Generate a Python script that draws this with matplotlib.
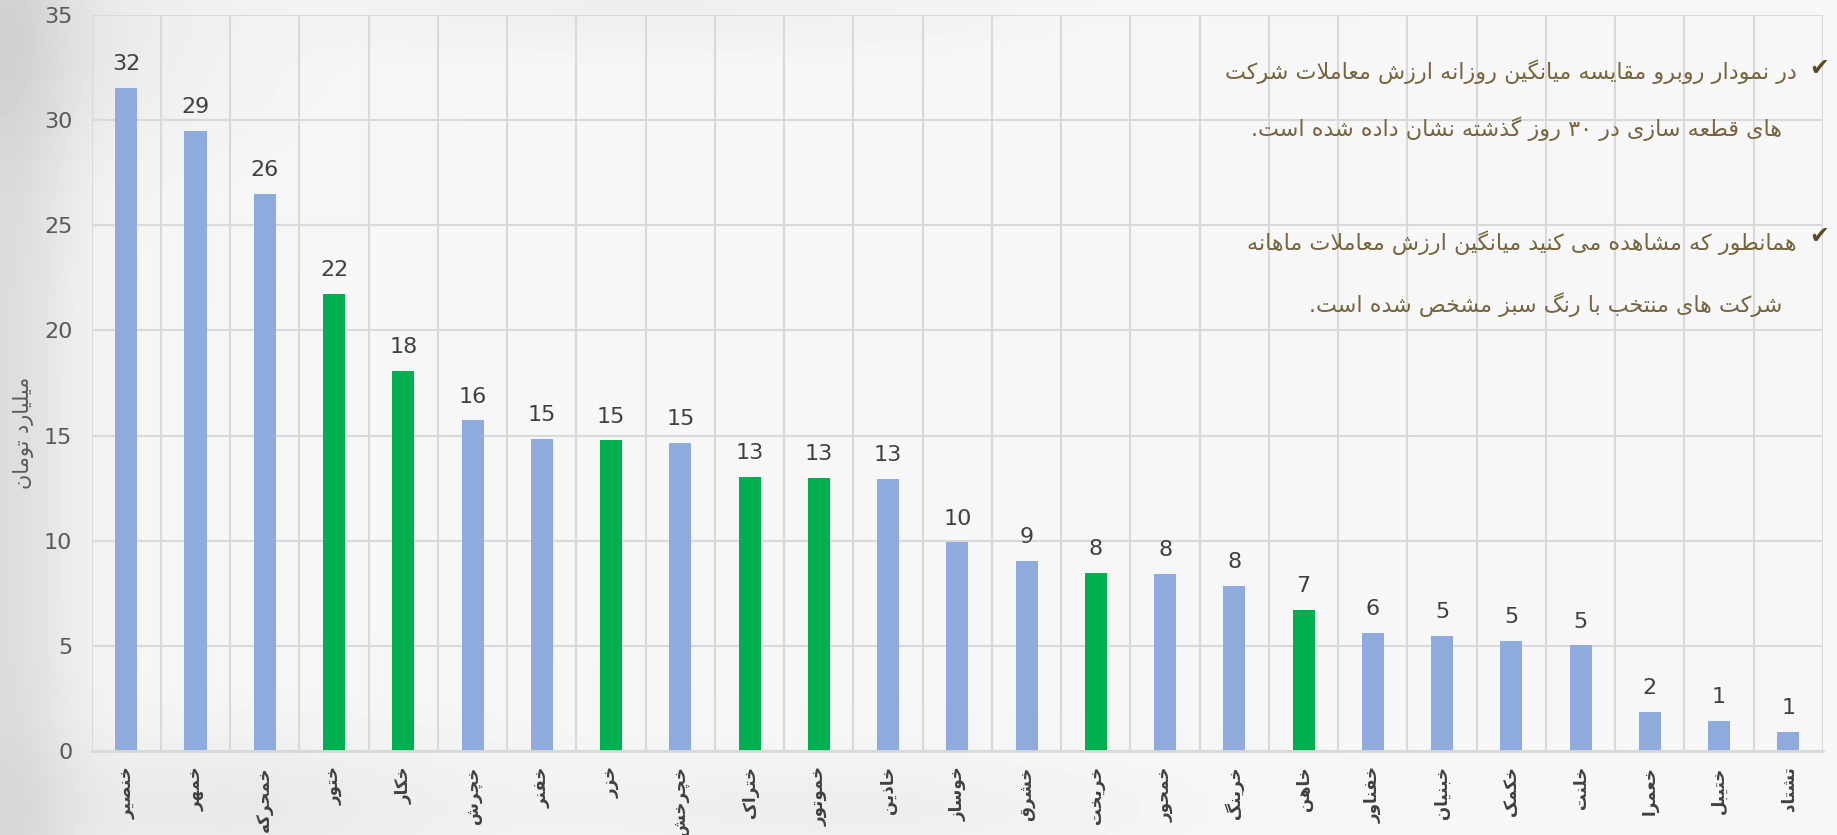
import re
import numpy as np
import matplotlib
matplotlib.use("Agg")
import matplotlib.pyplot as plt

# --- data -----------------------------------------------------------------
tickers = ["خنصیر", "خمهر", "خمحرکه", "ختور", "خکار", "خچرش", "خفنر", "خزر",
           "خچرخش", "ختراک", "خموتور", "خاذین", "خوساز", "خشرق", "خریخت",
           "خمحور", "خرینگ", "خاهن", "خفناور", "خبنیان", "خکمک", "خلنت",
           "خعمرا", "ختیبل", "تشتاد"]
values = [31.55, 29.49, 26.48, 21.74, 18.06, 15.72, 14.83, 14.77, 14.66, 13.04,
          12.99, 12.93, 9.92, 9.03, 8.45, 8.42, 7.86, 6.69, 5.63, 5.46,
          5.24, 5.02, 1.84, 1.45, 0.89]
selected = ["ختور", "خکار", "خزر", "ختراک", "خموتور", "خریخت", "خاهن"]
y_ticks = [0, 5, 10, 15, 20, 25, 30, 35]
y_label = "میلیارد تومان"
notes = [
    "در نمودار روبرو مقایسه میانگین روزانه ارزش معاملات شرکت",
    "های قطعه سازی در ۳۰ روز گذشته نشان داده شده است.",
    "همانطور که مشاهده می کنید میانگین ارزش معاملات ماهانه",
    "شرکت های منتخب با رنگ سبز مشخص شده است.",
]

# --- minimal persian shaping (matplotlib has no bidi / joining) -------------
# letter: (isolated, final, initial, medial); None -> joins only to the right
FORMS = {
    "ا": ("\uFE8D", "\uFE8E", None, None), "آ": ("\uFE81", "\uFE82", None, None),
    "ب": ("\uFE8F", "\uFE90", "\uFE91", "\uFE92"), "پ": ("\uFB56", "\uFB57", "\uFB58", "\uFB59"),
    "ت": ("\uFE95", "\uFE96", "\uFE97", "\uFE98"), "ث": ("\uFE99", "\uFE9A", "\uFE9B", "\uFE9C"),
    "ج": ("\uFE9D", "\uFE9E", "\uFE9F", "\uFEA0"), "چ": ("\uFB7A", "\uFB7B", "\uFB7C", "\uFB7D"),
    "ح": ("\uFEA1", "\uFEA2", "\uFEA3", "\uFEA4"), "خ": ("\uFEA5", "\uFEA6", "\uFEA7", "\uFEA8"),
    "د": ("\uFEA9", "\uFEAA", None, None), "ذ": ("\uFEAB", "\uFEAC", None, None),
    "ر": ("\uFEAD", "\uFEAE", None, None), "ز": ("\uFEAF", "\uFEB0", None, None),
    "ژ": ("\uFB8A", "\uFB8B", None, None),
    "س": ("\uFEB1", "\uFEB2", "\uFEB3", "\uFEB4"), "ش": ("\uFEB5", "\uFEB6", "\uFEB7", "\uFEB8"),
    "ص": ("\uFEB9", "\uFEBA", "\uFEBB", "\uFEBC"), "ض": ("\uFEBD", "\uFEBE", "\uFEBF", "\uFEC0"),
    "ط": ("\uFEC1", "\uFEC2", "\uFEC3", "\uFEC4"), "ظ": ("\uFEC5", "\uFEC6", "\uFEC7", "\uFEC8"),
    "ع": ("\uFEC9", "\uFECA", "\uFECB", "\uFECC"), "غ": ("\uFECD", "\uFECE", "\uFECF", "\uFED0"),
    "ف": ("\uFED1", "\uFED2", "\uFED3", "\uFED4"), "ق": ("\uFED5", "\uFED6", "\uFED7", "\uFED8"),
    "ک": ("\uFB8E", "\uFB8F", "\uFB90", "\uFB91"), "گ": ("\uFB92", "\uFB93", "\uFB94", "\uFB95"),
    "ل": ("\uFEDD", "\uFEDE", "\uFEDF", "\uFEE0"), "م": ("\uFEE1", "\uFEE2", "\uFEE3", "\uFEE4"),
    "ن": ("\uFEE5", "\uFEE6", "\uFEE7", "\uFEE8"), "و": ("\uFEED", "\uFEEE", None, None),
    "ه": ("\uFEE9", "\uFEEA", "\uFEEB", "\uFEEC"), "ی": ("\uFBFC", "\uFBFD", "\uFBFE", "\uFBFF"),
}


def joins_left(c):
    return c in FORMS and FORMS[c][2] is not None


def fa(text):
    chars = list(text)
    res = []
    i = 0
    while i < len(chars):
        c = chars[i]
        prev = chars[i - 1] if i > 0 else None
        nxt = chars[i + 1] if i + 1 < len(chars) else None
        if c not in FORMS:
            res.append(c)
            i += 1
            continue
        jp = joins_left(prev)
        if c == "ل" and nxt == "ا":  # lam-alef ligature
            res.append("\uFEFC" if jp else "\uFEFB")
            i += 2
            continue
        jn = joins_left(c) and nxt in FORMS
        iso, fin, ini, med = FORMS[c]
        res.append(med if (jp and jn) else fin if jp else ini if jn else iso)
        i += 1
    vis = "".join(res)[::-1]
    # numbers stay left-to-right
    return re.sub(r"[0-9\u06F0-\u06F9]+", lambda m: m.group(0)[::-1], vis)


# --- figure ---------------------------------------------------------------
W, H, DPI = 1837, 835, 100
fig = plt.figure(figsize=(W / DPI, H / DPI), dpi=DPI)

# soft grey/white backdrop
gx, gy = np.meshgrid(np.linspace(0, 1, 400), np.linspace(0, 1, 200))
bg = 0.965 - 0.10 * np.exp(-(gx / 0.04) ** 2)
bg -= 0.05 * np.exp(-((gx - 0.12) ** 2 / 0.02 + (gy - 0.03) ** 2 / 0.008))
bg -= 0.05 * np.exp(-((gx - 0.02) ** 2 / 0.01 + (gy - 0.95) ** 2 / 0.02))
bg -= 0.035 * np.exp(-((gx - 0.45) ** 2 / 0.02 + (gy - 0.03) ** 2 / 0.003))
bg -= 0.03 * np.exp(-((gx - 0.35) ** 2 / 0.03 + (gy - 0.99) ** 2 / 0.002))
bg_ax = fig.add_axes([0, 0, 1, 1], zorder=-1)
bg_ax.imshow(bg, cmap="gray", vmin=0, vmax=1, aspect="auto", origin="lower",
             extent=(0, 1, 0, 1), interpolation="bilinear")
bg_ax.axis("off")

ax = fig.add_axes([91.7 / W, 84 / H, (1823 - 91.7) / W, (751 - 15) / H])
ax.set_facecolor("none")

x = np.arange(len(tickers))
colors = ["#00B050" if t in selected else "#8FAADC" for t in tickers]
bars = ax.bar(x, values, width=0.32, color=colors, zorder=3)

for xi, v in zip(x, values):
    ax.annotate(f"{v:.0f}", (xi, v), xytext=(0, 10), textcoords="offset points",
                ha="center", va="bottom", fontsize=16, color="#404040")

ax.set_xlim(-0.5, len(tickers) - 0.5)
ax.set_ylim(0, 35)
ax.set_yticks(y_ticks)
ax.set_yticklabels([str(t) for t in y_ticks], fontsize=16, color="#595959")
ax.set_xticks(x)
ax.set_xticklabels([fa(t) for t in tickers], rotation=90, fontsize=12,
                   fontweight="bold", color="#404040", va="top", ha="center")
ax.set_xticks(np.arange(-0.5, len(tickers)), minor=True)
ax.tick_params(axis="both", which="both", length=0)
ax.tick_params(axis="y", pad=14)
ax.tick_params(axis="x", pad=11)

ax.grid(axis="y", color="#d9d9d9", linewidth=1.5, zorder=0)
ax.grid(axis="x", which="minor", color="#d9d9d9", linewidth=1.5, zorder=0)
ax.grid(axis="x", which="major", visible=False)
for side in ["top", "right", "left"]:
    ax.spines[side].set_visible(False)
ax.spines["bottom"].set_color("#d9d9d9")
ax.spines["bottom"].set_linewidth(2)
ax.spines["bottom"].set_zorder(4)

fig.text(23 / W, 1 - 433 / H, fa(y_label), rotation=90, fontsize=15,
         color="#595959", ha="center", va="center")

# notes in the upper right
note_color = "#76653f"
note_pos = [(1797, 72), (1782, 129), (1797, 243), (1782, 305)]
for txt, (px, py) in zip(notes, note_pos):
    fig.text(px / W, 1 - py / H, fa(txt), fontsize=16, color=note_color,
             ha="right", va="center")
for py in (68, 236):
    fig.text(1819 / W, 1 - py / H, "\u2714", fontsize=17, color="#5a4a25",
             ha="center", va="center")

fig.savefig("out.png", dpi=DPI)
